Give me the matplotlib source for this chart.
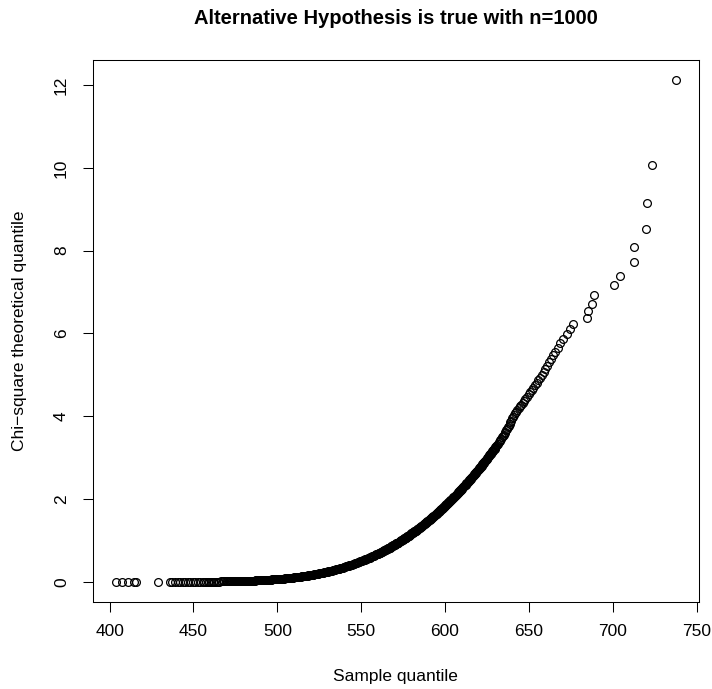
import matplotlib
matplotlib.use('Agg')
import matplotlib.pyplot as plt

plt.rcParams['font.family'] = ['Liberation Sans', 'DejaVu Sans']

# sorted sample values (x) against chi-square(1) quantiles (y), split by stretch of the curve
left_tail_x = [404.0, 407.5, 411.0, 414.5, 416.0, 429.0]
left_tail_y = [0.000, 0.000, 0.000, 0.000, 0.000, 0.000]

sparse_x = [436.0, 437.5, 439.0, 440.5, 442.0, 443.5, 445.0, 446.5, 448.0, 449.5,
            451.0, 452.5, 454.0, 455.5, 456.5, 457.5, 458.5, 459.5, 460.5, 461.5,
            462.5, 463.5, 464.5, 465.5, 466.5, 467.5, 468.5, 469.5]
sparse_y = [0.001, 0.001, 0.001, 0.001, 0.001, 0.002, 0.002, 0.002, 0.002, 0.003,
            0.003, 0.003, 0.004, 0.004, 0.005, 0.005, 0.006, 0.006, 0.007, 0.007,
            0.008, 0.008, 0.009, 0.009, 0.010, 0.010, 0.011, 0.011]

lower_x = [470.0, 470.5, 471.0, 471.5, 472.0, 472.5, 473.0, 473.5, 474.0, 474.5,
           475.0, 475.5, 476.0, 476.5, 477.0, 477.5, 478.0, 478.5, 479.0, 479.5,
           480.0, 480.5, 481.0, 481.5, 482.0, 482.5, 483.0, 483.5, 484.0, 484.5,
           485.0, 485.5, 486.0, 486.5, 487.0, 487.5, 488.0, 488.5, 489.0, 489.5,
           490.0, 490.5, 491.0, 491.5, 492.0, 492.5, 493.0, 493.5, 494.0, 494.5,
           495.0, 495.5, 496.0, 496.5, 497.0, 497.5, 498.0, 498.5, 499.0, 499.5,
           500.0, 500.5, 501.0, 501.5, 502.0, 502.5, 503.0, 503.5, 504.0, 504.5,
           505.0, 505.5, 506.0, 506.5, 507.0, 507.5, 508.0, 508.5, 509.0, 509.5,
           510.0, 510.5, 511.0, 511.5, 512.0, 512.5, 513.0, 513.5, 514.0, 514.5,
           515.0, 515.5, 516.0, 516.5, 517.0, 517.5, 518.0, 518.5, 519.0, 519.5,
           520.0, 520.5, 521.0, 521.5, 522.0, 522.5, 523.0, 523.5, 524.0, 524.5,
           525.0, 525.5, 526.0, 526.5, 527.0, 527.5, 528.0, 528.5, 529.0, 529.5,
           530.0, 530.5, 531.0, 531.5, 532.0, 532.5, 533.0, 533.5, 534.0, 534.5,
           535.0, 535.5, 536.0, 536.5, 537.0, 537.5, 538.0, 538.5, 539.0, 539.5,
           540.0, 540.5, 541.0, 541.5, 542.0, 542.5, 543.0, 543.5, 544.0, 544.5,
           545.0, 545.5, 546.0, 546.5, 547.0, 547.5, 548.0, 548.5, 549.0, 549.5,
           550.0, 550.5, 551.0, 551.5, 552.0, 552.5, 553.0, 553.5, 554.0, 554.5,
           555.0, 555.5, 556.0, 556.5, 557.0, 557.5, 558.0, 558.5, 559.0, 559.5]
lower_y = [0.012, 0.012, 0.013, 0.013, 0.014, 0.014, 0.015, 0.015, 0.016, 0.016,
           0.016, 0.017, 0.017, 0.018, 0.018, 0.019, 0.020, 0.020, 0.021, 0.022,
           0.022, 0.023, 0.024, 0.024, 0.025, 0.026, 0.027, 0.027, 0.028, 0.029,
           0.030, 0.031, 0.032, 0.033, 0.034, 0.035, 0.036, 0.037, 0.038, 0.039,
           0.040, 0.041, 0.042, 0.043, 0.044, 0.045, 0.047, 0.048, 0.049, 0.050,
           0.052, 0.053, 0.055, 0.056, 0.058, 0.059, 0.060, 0.062, 0.063, 0.065,
           0.067, 0.068, 0.070, 0.072, 0.074, 0.075, 0.077, 0.079, 0.081, 0.083,
           0.085, 0.087, 0.089, 0.091, 0.093, 0.095, 0.098, 0.100, 0.102, 0.105,
           0.107, 0.110, 0.112, 0.115, 0.118, 0.120, 0.123, 0.126, 0.129, 0.132,
           0.135, 0.138, 0.141, 0.144, 0.147, 0.150, 0.154, 0.157, 0.160, 0.164,
           0.167, 0.171, 0.174, 0.178, 0.182, 0.185, 0.189, 0.193, 0.197, 0.201,
           0.205, 0.209, 0.214, 0.218, 0.222, 0.227, 0.231, 0.236, 0.240, 0.245,
           0.249, 0.254, 0.259, 0.264, 0.269, 0.274, 0.279, 0.284, 0.290, 0.295,
           0.300, 0.306, 0.312, 0.317, 0.323, 0.329, 0.335, 0.341, 0.347, 0.353,
           0.359, 0.366, 0.372, 0.378, 0.385, 0.391, 0.398, 0.405, 0.412, 0.419,
           0.426, 0.433, 0.441, 0.448, 0.456, 0.463, 0.471, 0.478, 0.486, 0.493,
           0.501, 0.510, 0.518, 0.526, 0.535, 0.543, 0.552, 0.560, 0.569, 0.578,
           0.587, 0.596, 0.606, 0.615, 0.625, 0.634, 0.644, 0.653, 0.663, 0.672]

steep_x = [560.00, 560.25, 560.50, 560.75, 561.00, 561.25, 561.50, 561.75,
           562.00, 562.25, 562.50, 562.75, 563.00, 563.25, 563.50, 563.75,
           564.00, 564.25, 564.50, 564.75, 565.00, 565.25, 565.50, 565.75,
           566.00, 566.25, 566.50, 566.75, 567.00, 567.25, 567.50, 567.75,
           568.00, 568.25, 568.50, 568.75, 569.00, 569.25, 569.50, 569.75,
           570.00, 570.25, 570.50, 570.75, 571.00, 571.25, 571.50, 571.75,
           572.00, 572.25, 572.50, 572.75, 573.00, 573.25, 573.50, 573.75,
           574.00, 574.25, 574.50, 574.75, 575.00, 575.25, 575.50, 575.75,
           576.00, 576.25, 576.50, 576.75, 577.00, 577.25, 577.50, 577.75,
           578.00, 578.25, 578.50, 578.75, 579.00, 579.25, 579.50, 579.75,
           580.00, 580.25, 580.50, 580.75, 581.00, 581.25, 581.50, 581.75,
           582.00, 582.25, 582.50, 582.75, 583.00, 583.25, 583.50, 583.75,
           584.00, 584.25, 584.50, 584.75, 585.00, 585.25, 585.50, 585.75,
           586.00, 586.25, 586.50, 586.75, 587.00, 587.25, 587.50, 587.75,
           588.00, 588.25, 588.50, 588.75, 589.00, 589.25, 589.50, 589.75,
           590.00, 590.25, 590.50, 590.75, 591.00, 591.25, 591.50, 591.75,
           592.00, 592.25, 592.50, 592.75, 593.00, 593.25, 593.50, 593.75,
           594.00, 594.25, 594.50, 594.75, 595.00, 595.25, 595.50, 595.75,
           596.00, 596.25, 596.50, 596.75, 597.00, 597.25, 597.50, 597.75,
           598.00, 598.25, 598.50, 598.75, 599.00, 599.25, 599.50, 599.75,
           600.00, 600.25, 600.50, 600.75, 601.00, 601.25, 601.50, 601.75,
           602.00, 602.25, 602.50, 602.75, 603.00, 603.25, 603.50, 603.75,
           604.00, 604.25, 604.50, 604.75, 605.00, 605.25, 605.50, 605.75,
           606.00, 606.25, 606.50, 606.75, 607.00, 607.25, 607.50, 607.75,
           608.00, 608.25, 608.50, 608.75, 609.00, 609.25, 609.50, 609.75,
           610.00, 610.25, 610.50, 610.75, 611.00, 611.25, 611.50, 611.75,
           612.00, 612.25, 612.50, 612.75, 613.00, 613.25, 613.50, 613.75,
           614.00, 614.25, 614.50, 614.75, 615.00, 615.25, 615.50, 615.75,
           616.00, 616.25, 616.50, 616.75, 617.00, 617.25, 617.50, 617.75,
           618.00, 618.25, 618.50, 618.75, 619.00, 619.25, 619.50, 619.75,
           620.00, 620.25, 620.50, 620.75, 621.00, 621.25, 621.50, 621.75,
           622.00, 622.25, 622.50, 622.75, 623.00, 623.25, 623.50, 623.75,
           624.00, 624.25, 624.50, 624.75, 625.00, 625.25, 625.50, 625.75,
           626.00, 626.25, 626.50, 626.75, 627.00, 627.25, 627.50, 627.75,
           628.00, 628.25, 628.50, 628.75, 629.00, 629.25, 629.50, 629.75]
steep_y = [0.68, 0.68, 0.69, 0.70, 0.70, 0.71, 0.71, 0.72,
           0.72, 0.73, 0.73, 0.74, 0.74, 0.75, 0.75, 0.76,
           0.77, 0.77, 0.78, 0.78, 0.79, 0.79, 0.80, 0.80,
           0.81, 0.81, 0.82, 0.82, 0.83, 0.83, 0.84, 0.85,
           0.86, 0.86, 0.87, 0.87, 0.88, 0.88, 0.89, 0.89,
           0.90, 0.91, 0.91, 0.92, 0.93, 0.93, 0.94, 0.94,
           0.95, 0.95, 0.96, 0.97, 0.98, 0.98, 0.99, 0.99,
           1.00, 1.01, 1.02, 1.02, 1.03, 1.04, 1.04, 1.05,
           1.06, 1.06, 1.07, 1.07, 1.08, 1.09, 1.10, 1.10,
           1.11, 1.12, 1.12, 1.13, 1.14, 1.14, 1.15, 1.16,
           1.17, 1.17, 1.18, 1.19, 1.20, 1.20, 1.21, 1.22,
           1.23, 1.23, 1.24, 1.24, 1.25, 1.26, 1.27, 1.27,
           1.28, 1.29, 1.30, 1.30, 1.31, 1.32, 1.33, 1.34,
           1.35, 1.35, 1.36, 1.37, 1.38, 1.39, 1.40, 1.40,
           1.41, 1.42, 1.43, 1.44, 1.45, 1.45, 1.46, 1.47,
           1.48, 1.49, 1.50, 1.50, 1.51, 1.52, 1.53, 1.54,
           1.55, 1.56, 1.57, 1.57, 1.58, 1.59, 1.60, 1.61,
           1.62, 1.62, 1.63, 1.64, 1.65, 1.66, 1.67, 1.68,
           1.69, 1.70, 1.71, 1.72, 1.73, 1.74, 1.75, 1.75,
           1.76, 1.77, 1.78, 1.79, 1.80, 1.81, 1.82, 1.83,
           1.84, 1.85, 1.86, 1.87, 1.88, 1.89, 1.90, 1.91,
           1.92, 1.93, 1.94, 1.95, 1.96, 1.97, 1.98, 1.99,
           2.00, 2.01, 2.02, 2.03, 2.04, 2.05, 2.06, 2.07,
           2.08, 2.09, 2.10, 2.11, 2.12, 2.13, 2.14, 2.15,
           2.17, 2.18, 2.19, 2.20, 2.21, 2.22, 2.23, 2.24,
           2.25, 2.26, 2.28, 2.29, 2.30, 2.31, 2.32, 2.33,
           2.34, 2.35, 2.37, 2.38, 2.39, 2.40, 2.41, 2.42,
           2.44, 2.45, 2.46, 2.47, 2.48, 2.49, 2.50, 2.51,
           2.53, 2.54, 2.55, 2.56, 2.58, 2.59, 2.60, 2.61,
           2.63, 2.64, 2.65, 2.66, 2.67, 2.68, 2.70, 2.71,
           2.72, 2.73, 2.75, 2.76, 2.77, 2.78, 2.80, 2.81,
           2.82, 2.84, 2.85, 2.86, 2.88, 2.89, 2.90, 2.92,
           2.93, 2.94, 2.95, 2.97, 2.98, 2.99, 3.01, 3.02,
           3.03, 3.05, 3.06, 3.08, 3.09, 3.10, 3.12, 3.13,
           3.14, 3.16, 3.17, 3.18, 3.20, 3.21, 3.22, 3.24]

upper_x = [630.0, 630.5, 631.0, 631.5, 632.0, 632.5, 633.0, 633.5, 634.0, 634.5,
           635.0, 635.5, 636.0, 636.5, 637.0, 637.5, 638.0, 638.5, 639.0, 639.5]
upper_y = [3.25, 3.28, 3.31, 3.34, 3.37, 3.40, 3.43, 3.46, 3.50, 3.53,
           3.56, 3.60, 3.63, 3.66, 3.70, 3.73, 3.77, 3.81, 3.85, 3.89]

thin_x = [639.8, 640.4, 641.0, 641.7, 642.4, 643.1, 643.9, 644.7, 645.5, 646.3,
          647.1, 647.9, 648.8, 649.8, 650.7, 651.6, 652.6, 653.6, 654.6, 655.5,
          656.4, 657.6, 658.8, 659.8, 661.0, 662.2, 663.2, 664.3, 665.6, 667.2]
thin_y = [3.95, 3.99, 4.03, 4.07, 4.11, 4.15, 4.19, 4.24, 4.28, 4.33,
          4.37, 4.42, 4.47, 4.53, 4.58, 4.63, 4.69, 4.75, 4.81, 4.87,
          4.93, 5.00, 5.07, 5.14, 5.22, 5.30, 5.38, 5.47, 5.56, 5.66]

top_x = [668.8, 670.5, 672.5, 674.5, 676.0, 684.9, 685.3, 687.9, 688.7,
         700.6, 704.2, 712.7, 712.7, 720.0, 720.4, 723.6, 738.0]
top_y = [5.76, 5.87, 5.98, 6.11, 6.24, 6.38, 6.54, 6.72, 6.93,
         7.16, 7.40, 7.72, 8.09, 8.53, 9.14, 10.07, 12.12]

x_ticks = [400, 450, 500, 550, 600, 650, 700, 750]
y_ticks = [0, 2, 4, 6, 8, 10, 12]

sample_q = left_tail_x + sparse_x + lower_x + steep_x + upper_x + thin_x + top_x
chisq_q = left_tail_y + sparse_y + lower_y + steep_y + upper_y + thin_y + top_y

fig = plt.figure(figsize=(7.12, 6.89), dpi=100)
ax = fig.add_axes([0.1306, 0.1263, 0.8511, 0.7866])

ax.plot(sample_q, chisq_q, linestyle='none', marker='o', markersize=5.6,
        markerfacecolor='none', markeredgecolor='black', markeredgewidth=0.9)

ax.set_xlim(390.1, 751.4)
ax.set_ylim(-0.485, 12.605)
ax.set_xticks(x_ticks)
ax.set_yticks(y_ticks)
ax.tick_params(length=7.2, width=0.75, labelsize=12.5, color='black')
ax.tick_params(axis='x', pad=9)
ax.tick_params(axis='y', pad=10)
for lbl in ax.get_yticklabels():
    lbl.set_rotation(90)
    lbl.set_verticalalignment('center')
for sp in ax.spines.values():
    sp.set_linewidth(0.75)

fig.text(0.556, 1 - 18 / 689, 'Alternative Hypothesis is true with n=1000',
         ha='center', va='center', fontsize=14.5, fontweight='bold')
fig.text(0.556, 1 - 677 / 689, 'Sample quantile', ha='center', va='center', fontsize=12.5)
fig.text(20 / 712, 0.5195, 'Chi\u2212square theoretical quantile', ha='center', va='center',
         rotation=90, fontsize=12.5)

fig.savefig('out.png', dpi=100)
